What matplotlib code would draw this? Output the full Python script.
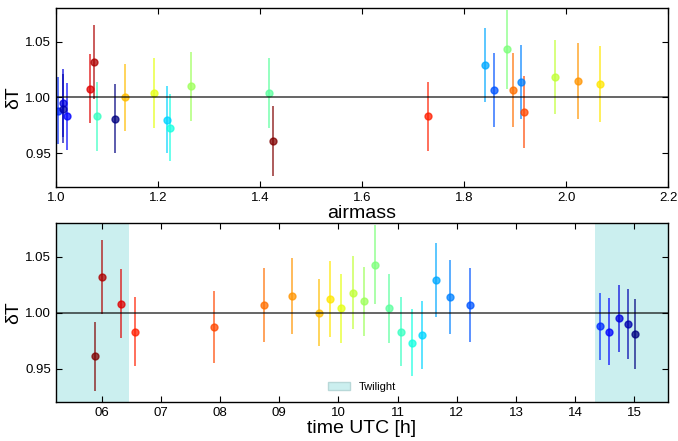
import numpy as np
import matplotlib
matplotlib.use('Agg')
import matplotlib.pyplot as plt
from matplotlib.patches import Patch
from matplotlib.ticker import FormatStrFormatter

plt.rcParams['font.family'] = ['Liberation Sans', 'DejaVu Sans']

# observation time (UTC hours), airmass, relative transmission and its error
time_utc = [5.88, 6.00, 6.33, 6.57, 7.90, 8.74, 9.21, 9.68, 9.86, 10.05,
            10.24, 10.44, 10.62, 10.85, 11.05, 11.25, 11.42, 11.65, 11.88, 12.22,
            14.42, 14.57, 14.74, 14.90, 15.01]
airmass = [1.426, 1.075, 1.066, 1.730, 1.918, 1.897, 2.024, 1.136, 2.067, 1.192,
           1.978, 1.264, 1.884, 1.418, 1.081, 1.224, 1.217, 1.841, 1.911, 1.859,
           1.003, 1.022, 1.013, 1.014, 1.116]
dT = [0.961, 1.032, 1.008, 0.983, 0.987, 1.007, 1.015, 1.000, 1.012, 1.004,
      1.018, 1.010, 1.043, 1.004, 0.983, 0.973, 0.980, 1.029, 1.014, 1.007,
      0.988, 0.983, 0.995, 0.990, 0.981]
dT_err = [0.031, 0.033, 0.031, 0.031, 0.032, 0.033, 0.034, 0.030, 0.034, 0.031,
          0.033, 0.031, 0.035, 0.031, 0.031, 0.030, 0.030, 0.033, 0.033, 0.033,
          0.030, 0.030, 0.030, 0.031, 0.031]

twilight_morning_end = 6.46
twilight_evening_start = 14.34

colors = plt.cm.jet(np.linspace(1, 0, len(dT)))

fig = plt.figure(figsize=(6.78, 4.41), dpi=100)
ax1 = fig.add_axes([0.0826, 0.576, 0.9027, 0.406])
ax2 = fig.add_axes([0.0826, 0.088, 0.9027, 0.406])

for i in range(len(dT)):
    ax1.errorbar(airmass[i], dT[i], yerr=dT_err[i], fmt='o', color=colors[i],
                 ms=5, elinewidth=1.2, alpha=0.75, capsize=0)
    ax2.errorbar(time_utc[i], dT[i], yerr=dT_err[i], fmt='o', color=colors[i],
                 ms=5, elinewidth=1.2, alpha=0.75, capsize=0)

xlim2 = (5.228, 15.57)
ax2.axvspan(xlim2[0], twilight_morning_end, color='#CBEFEF', lw=0, zorder=0)
ax2.axvspan(twilight_evening_start, xlim2[1], color='#CBEFEF', lw=0, zorder=0)

for ax in (ax1, ax2):
    ax.axhline(1.0, color='black', lw=1.2, alpha=0.7, zorder=5)
    ax.set_ylim(0.92, 1.08)
    ax.set_yticks([0.95, 1.00, 1.05])
    ax.yaxis.set_major_formatter(FormatStrFormatter('%.2f'))
    ax.set_ylabel('δT', fontsize=14, labelpad=2)
    ax.tick_params(direction='in', top=True, right=True, labelsize=9.5, length=4)
    for s in ax.spines.values():
        s.set_linewidth(1.0)

ax1.set_xlim(1.0, 2.2)
ax1.set_xticks([1.0, 1.2, 1.4, 1.6, 1.8, 2.0, 2.2])
ax1.xaxis.set_major_formatter(FormatStrFormatter('%.1f'))
ax1.set_xlabel('airmass', fontsize=14, labelpad=1)

ax2.set_xlim(*xlim2)
hours = list(range(6, 16))
ax2.set_xticks(hours)
ax2.set_xticklabels(['%02d' % h for h in hours])
ax2.set_xlabel('time UTC [h]', fontsize=14, labelpad=1)
ax2.legend(handles=[Patch(facecolor='#CBEFEF', edgecolor='#B8D8D8', label='Twilight')],
           loc='lower center', frameon=False, fontsize=8)

fig.savefig('out.png', dpi=100)
